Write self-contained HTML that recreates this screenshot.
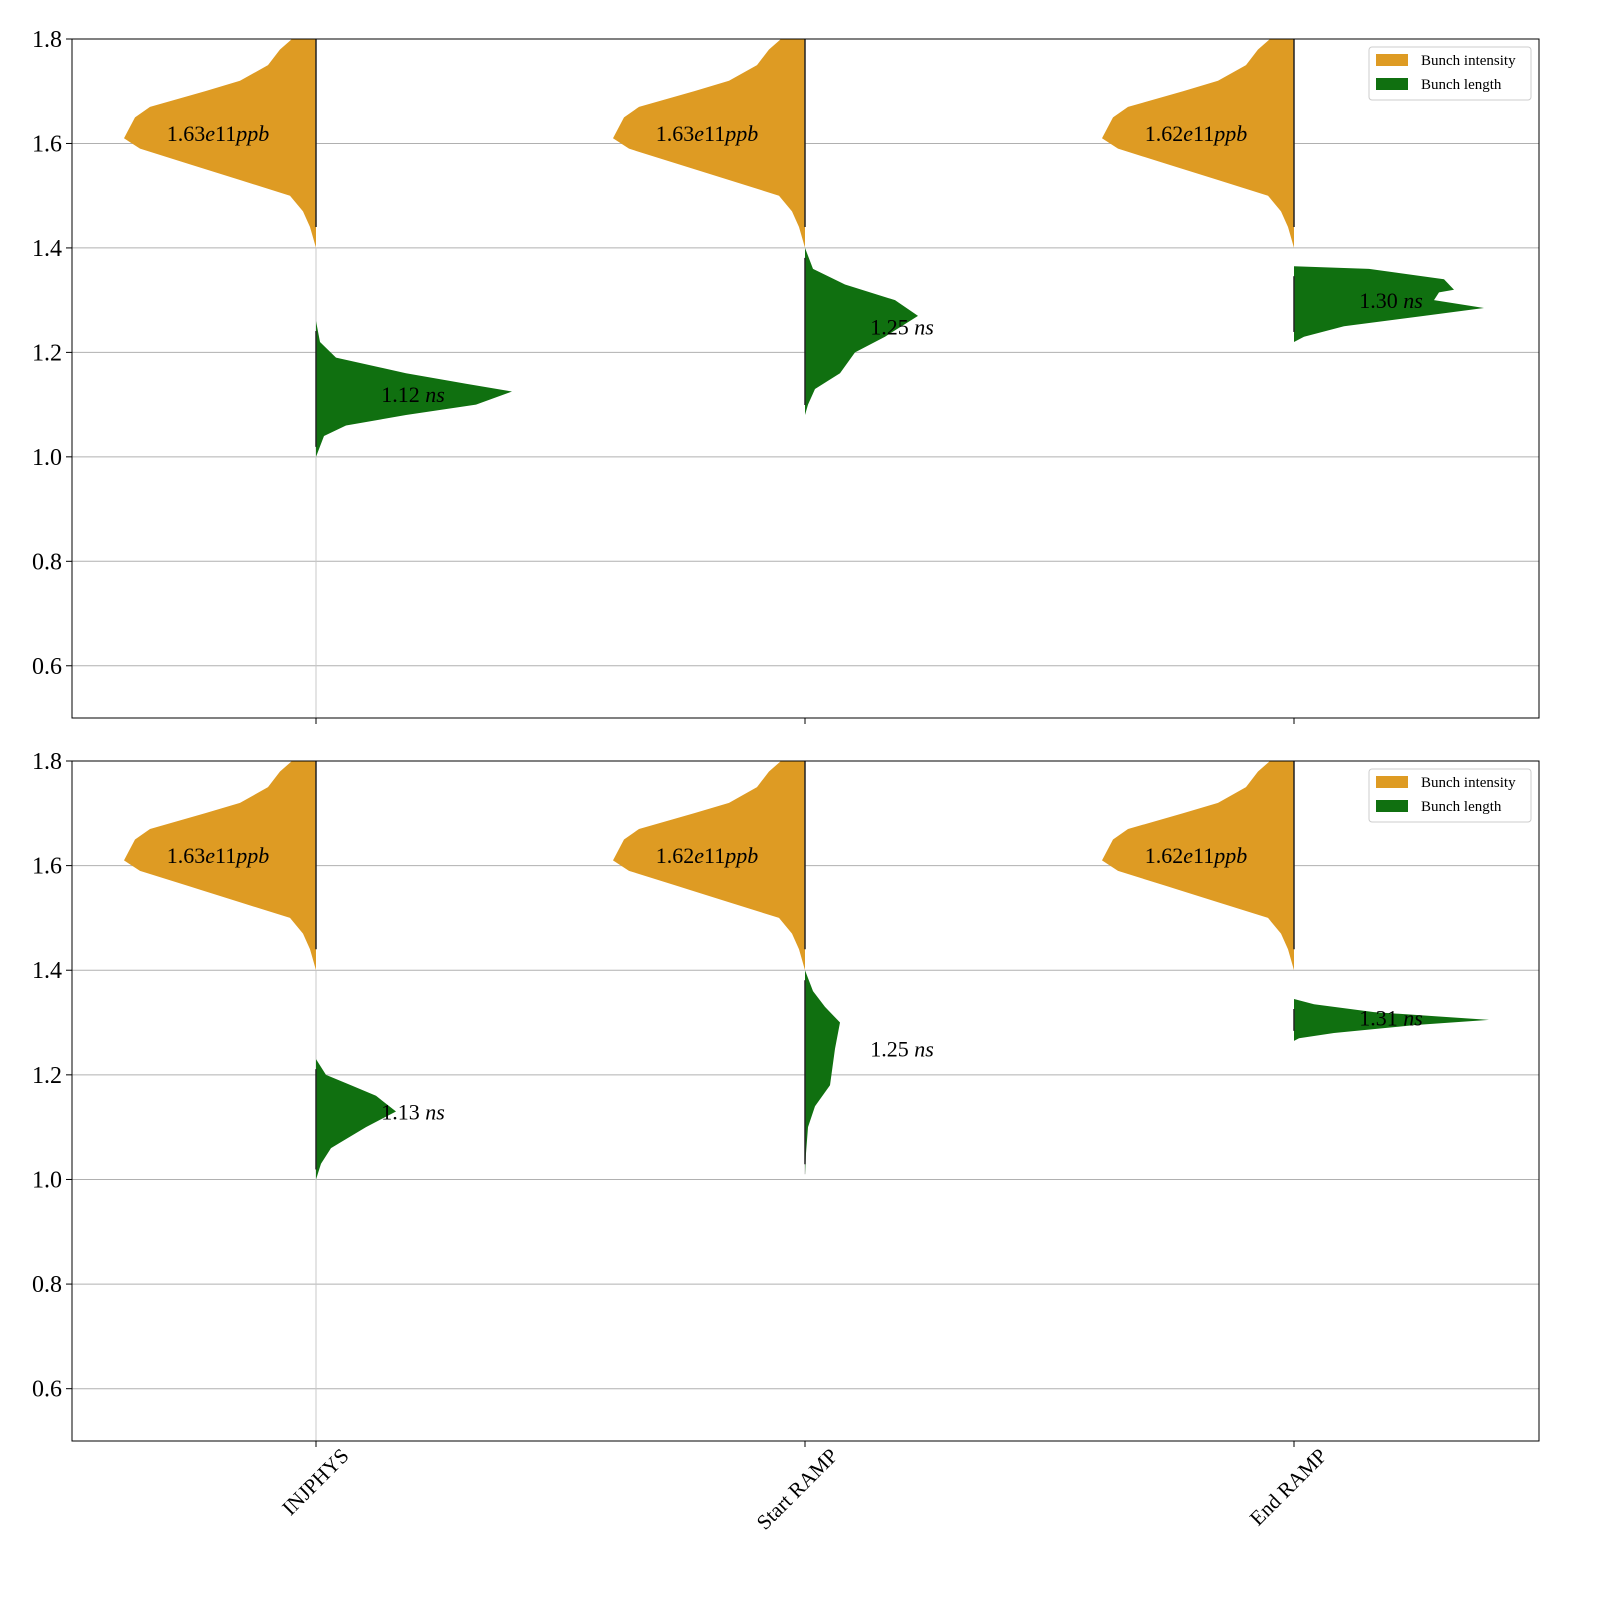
<!DOCTYPE html>
<html><head><meta charset="utf-8"><style>
body{margin:0;background:#fff}
svg text{font-family:"Liberation Serif",serif}
</style></head><body>
<svg id="chart" width="1600" height="1600" viewBox="0 0 1600 1600" xmlns="http://www.w3.org/2000/svg"></svg>
<script>
const categories=["INJPHYS","Start RAMP","End RAMP"];
const intensityLabels=[["1.63","1.63","1.62"],["1.63","1.62","1.62"]];
const lengthLabels=[["1.12","1.25","1.30"],["1.13","1.25","1.31"]];
const lengthLabelY=[[1.12,1.25,1.30],[1.13,1.25,1.31]];
const yTicks=[0.6,0.8,1.0,1.2,1.4,1.6,1.8];
const intenY=[1.80,1.78,1.75,1.72,1.70,1.67,1.65,1.61,1.59,1.56,1.53,1.50,1.47,1.44,1.40];
const intenD=[24,36,48,76,111,166,181,192,176,126,76,26,13,6,0];
const lenY=[
 [[1.26,1.22,1.19,1.16,1.14,1.125,1.10,1.08,1.06,1.04,1.0],
  [1.40,1.36,1.33,1.30,1.27,1.23,1.20,1.16,1.13,1.10,1.08],
  [1.365,1.36,1.34,1.32,1.315,1.30,1.285,1.27,1.25,1.23,1.22]],
 [[1.23,1.20,1.18,1.16,1.13,1.10,1.06,1.03,1.0],
  [1.40,1.36,1.33,1.30,1.25,1.18,1.14,1.10,1.05,1.01],
  [1.345,1.335,1.32,1.305,1.295,1.28,1.27,1.265]]];
const lenD=[
 [[0,4,20,90,150,196,160,90,30,8,0],
  [0,8,40,90,113,80,50,35,10,3,0],
  [0,75,150,160,145,140,190,130,50,10,0]],
 [[0,10,35,60,80,50,15,5,0],
  [0,8,20,35,30,25,10,3,1,0],
  [0,20,80,195,120,40,5,0]]];
const svg=document.getElementById('chart');
const NS='http://www.w3.org/2000/svg';
function mk(t,a,p){const e=document.createElementNS(NS,t);for(const k in a)e.setAttribute(k,a[k]);(p||svg).appendChild(e);return e;}
const L=72,R=1539,panels=[{top:39,bot:718},{top:761,bot:1441}];
const xs=[316,805,1294];
function xPos(i){return xs[i];}
panels.forEach((P,pi)=>{
 const y=v=>P.top+(1.8-v)*(P.bot-P.top)/1.3;
 const g=mk('g',{});
 
 
 yTicks.forEach(t=>{
  const ln=mk('line',{x1:L,x2:R,y1:y(t),y2:y(t),stroke:'#b0b0b0','stroke-width':1},g);
  
  
  mk('line',{x1:L-6,x2:L,y1:y(t),y2:y(t),stroke:'#000'},g);
  const tx=mk('text',{x:L-10,y:y(t)+8,'text-anchor':'end','font-size':24},g);
  tx.textContent=t.toFixed(1);
  
  
 });
 categories.forEach((c,i)=>{
  const x=xPos(i);
  if(i===0) mk('line',{x1:x,x2:x,y1:y(1.4),y2:P.bot,stroke:'#c8c8c8','stroke-width':1},g);
  if(i===1&&pi===1) mk('line',{x1:x,x2:x,y1:y(1.1),y2:y(1.01),stroke:'#c8c8c8','stroke-width':1},g);
  mk('line',{x1:x,x2:x,y1:P.bot,y2:P.bot+6,stroke:'#000'},g);
  let d='M'+x+','+y(intenY[0]);
  intenY.forEach((v,k)=>{d+=' L'+(x-intenD[k])+','+y(v);});
  d+=' L'+x+','+y(intenY[intenY.length-1])+'Z';
  const o=mk('path',{d:d,fill:'#de9b23'},g);
  
  
  const ly=lenY[pi][i],ld=lenD[pi][i];
  let d2='M'+x+','+y(ly[0]);
  ly.forEach((v,k)=>{d2+=' L'+(x+ld[k])+','+y(v);});
  d2+=' L'+x+','+y(ly[ly.length-1])+'Z';
  const gr=mk('path',{d:d2,fill:'#107010'},g);
  
  
  mk('line',{x1:x,x2:x,y1:y(1.8),y2:y(1.44),stroke:'#222','stroke-width':1.5},g);
  mk('line',{x1:x,x2:x,y1:y(ly[0])+10,y2:y(ly[ly.length-1])-10,stroke:'#222','stroke-width':1.5},g);
  const t1=mk('text',{x:x-98,y:y(1.62)+8,'text-anchor':'middle','font-size':22},g);
  t1.innerHTML=intensityLabels[pi][i]+'<tspan font-style="italic">e</tspan>11<tspan font-style="italic">ppb</tspan>';
  
  
  const t2=mk('text',{x:x+97,y:y(lengthLabelY[pi][i])+8,'text-anchor':'middle','font-size':22},g);
  t2.innerHTML=lengthLabels[pi][i]+' <tspan font-style="italic">ns</tspan>';
  
  
  if(pi===1){
   const ax=x+34,ay=P.bot+16;
   const xl=mk('text',{x:ax,y:ay,'text-anchor':'end','font-size':21,transform:'rotate(-45 '+ax+' '+ay+')'},g);
   xl.textContent=c;
   
   
  }
 });
 mk('rect',{x:L,y:P.top,width:R-L,height:P.bot-P.top,fill:'none',stroke:'#000','stroke-width':1},g);
 const lg=mk('g',{},g);
 
 
 mk('rect',{x:1369,y:P.top+8,width:162,height:53,fill:'#fff',stroke:'#ccc',rx:3},lg);
 [['Bunch intensity','#de9b23'],['Bunch length','#107010']].forEach((e,k)=>{
  const ey=P.top+21+k*24;
  mk('rect',{x:1376,y:ey-6,width:32,height:12,fill:e[1]},lg);
  const t=mk('text',{x:1421,y:ey+5,'font-size':15},lg);
  t.textContent=e[0];
  
  
 });
});
</script>
</body></html>
